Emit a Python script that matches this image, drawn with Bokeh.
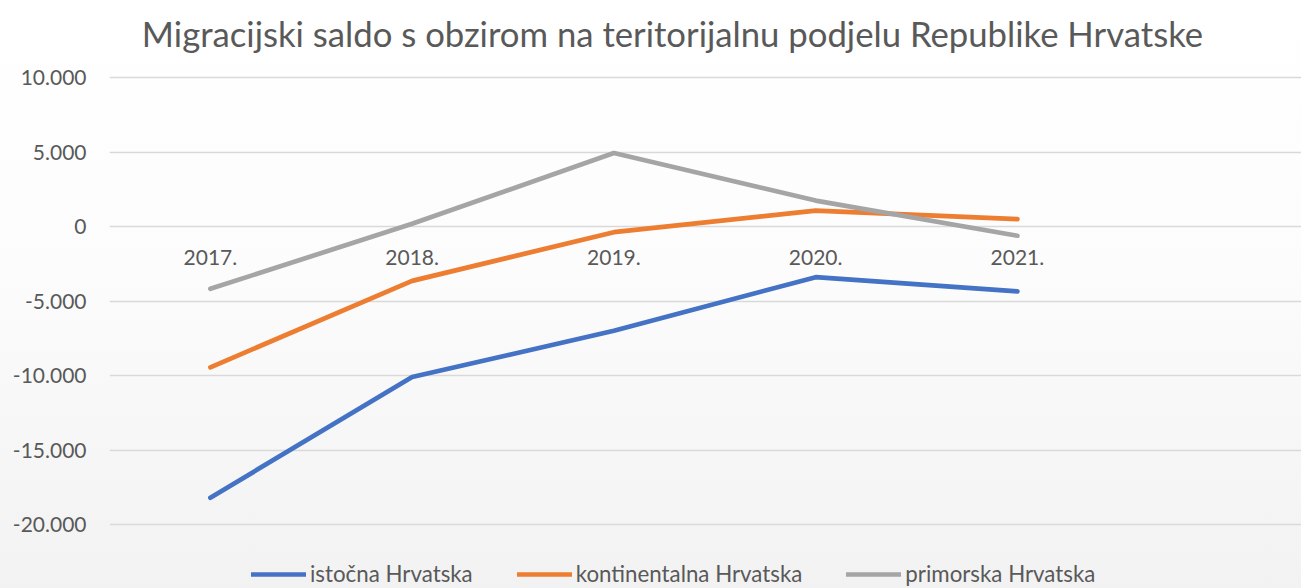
from bokeh.plotting import figure
from bokeh.models import Range1d, FixedTicker, Legend, LegendItem, Label
from bokeh.core.properties import value
from bokeh.embed import file_html
from bokeh.resources import INLINE

# ---- data ----
categories = ["2017.", "2018.", "2019.", "2020.", "2021."]
istocna = [-18200, -10100, -7000, -3400, -4350]
kontinentalna = [-9450, -3650, -380, 1070, 500]
primorska = [-4180, 180, 4930, 1740, -620]
series_names = ["istočna Hrvatska", "kontinentalna Hrvatska", "primorska Hrvatska"]
y_ticks = [-20000, -15000, -10000, -5000, 0, 5000, 10000]
y_tick_labels = ["-20.000", "-15.000", "-10.000", "-5.000", "0", "5.000", "10.000"]
title_text = "Migracijski saldo s obzirom na teritorijalnu podjelu Republike Hrvatske"

# ---- style ----
FONT = "Lato"
TXT = "#595959"
colors = ["#4472C4", "#ED7D31", "#A5A5A5"]
W, H = 1301, 588

xs = list(range(len(categories)))

p = figure(width=W, height=H, output_backend="svg", toolbar_location=None,
           x_range=Range1d(-0.5, 5.408), y_range=Range1d(-24295, 15168),
           min_border_left=109, min_border_right=0, min_border_top=0,
           min_border_bottom=0, background_fill_alpha=0, border_fill_alpha=0,
           outline_line_color=None)
p.styles = {"background": "linear-gradient(to bottom, #ffffff 0%, #fcfcfc 45%, #f2f2f2 100%)"}

p.xaxis.visible = False
p.xgrid.grid_line_color = None

ticker = FixedTicker(ticks=y_ticks)
p.yaxis.ticker = ticker
p.ygrid.ticker = ticker
p.ygrid.grid_line_color = "#d9d9d9"
p.ygrid.grid_line_width = 1.5
p.yaxis.major_label_overrides = dict(zip(y_ticks, y_tick_labels))
p.yaxis.axis_line_color = None
p.yaxis.major_tick_line_color = None
p.yaxis.minor_tick_line_color = None
p.yaxis.major_tick_in = 0
p.yaxis.major_tick_out = 0
p.yaxis.major_label_standoff = 23
p.yaxis.major_label_text_font = FONT
p.yaxis.major_label_text_font_size = "21px"
p.yaxis.major_label_text_color = TXT

renderers = []
for ser, col in zip([istocna, kontinentalna, primorska], colors):
    r = p.line(x=xs, y=ser, line_color=col, line_width=4.7,
               line_cap="round", line_join="round")
    renderers.append(r)

# category labels drawn next to the zero line
p.text(x=xs, y=[0] * len(categories), text=categories, y_offset=31,
       text_align="center", text_baseline="middle", text_font=value(FONT),
       text_font_size="21px", text_color=TXT)

# title (screen units, relative to the frame's bottom-left)
title = Label(x=672 - 109, y=H - 33, x_units="screen", y_units="screen",
              text=title_text, text_align="center", text_baseline="alphabetic",
              text_font=FONT, text_font_size="34.7px", text_color=TXT)
p.add_layout(title)

legend = Legend(items=[LegendItem(label=n, renderers=[r]) for n, r in zip(series_names, renderers)],
                orientation="horizontal", location=(142, 1),
                glyph_width=55, glyph_height=22, label_height=22, label_standoff=4, spacing=44,
                padding=0, margin=0, border_line_color=None, background_fill_alpha=0,
                label_text_font=FONT, label_text_font_size="22.3px", label_text_color=TXT)
p.add_layout(legend, "center")

open("out.html", "w").write(file_html(p, INLINE))
